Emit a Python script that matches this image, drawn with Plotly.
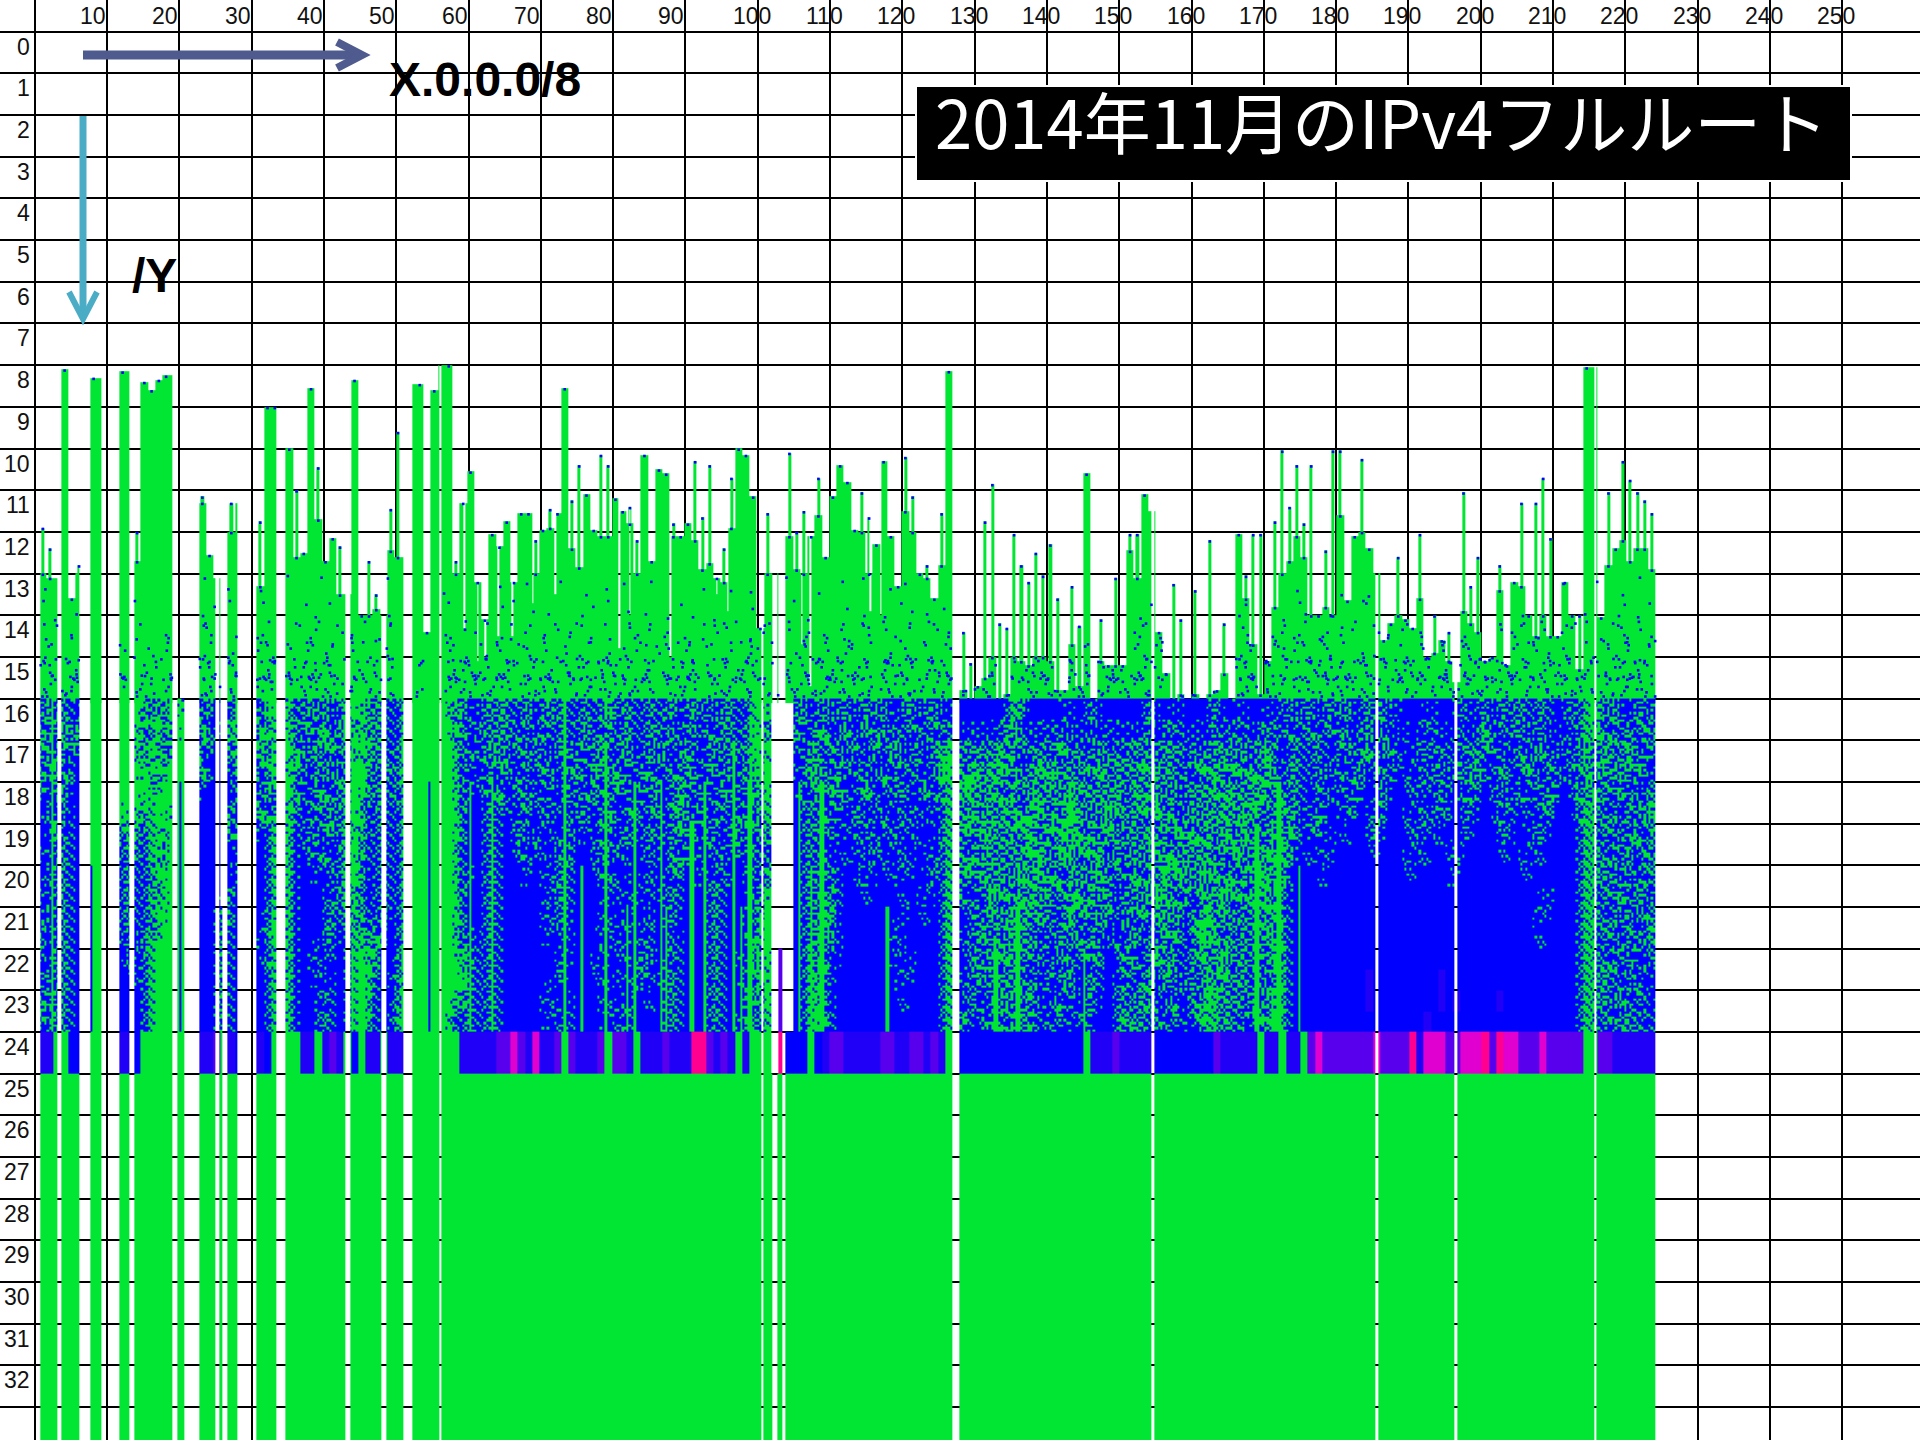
import plotly.graph_objects as go

# ---------- axes labels ----------
x_ticks = list(range(0, 251, 10))
x_labels = [v for v in x_ticks if v > 0]
y_rows = list(range(0, 34))
y_labels = list(range(0, 33))

# ---------- columns that exist in the routing table: (first, last) in /8 units ----------
block_start = [1.15, 4.1, 8.1, 12.1, 14.1, 20.05, 23.05, 25.9, 27, 31, 35, 43.9, 48.85, 52.5, 56.5,
               100.85, 102.85, 103.9, 128, 154.8, 185.7, 196.6, 215.85]
block_end = [3.5, 6.5, 9.5, 13.4, 19.4, 21, 25.35, 26.3, 28.3, 33.7, 43.2, 48.2, 51.2, 56.2, 100.6,
             102.2, 103.5, 127, 154.5, 185.4, 196.3, 215.5, 224]

# ---------- top of the green body of each /8 (prefix length), None = absent ----------
body_top = [
    None, 13.0, 13.1, 13.1, 8.1, 13.6, 13.0, None, 8.3, 8.3,
    None, None, 8.15, 8.15, 12.7, 8.4, 8.6, 8.35, 8.25, 8.25,
    16, None, None, 11.3, 12.55, 13.1, None, 12.0, 11.3, None,
    None, 13.3, 9.0, 9.0, None, 10.0, 12.6, 12.5, 8.55, 11.7,
    12.7, 12.15, 13.5, 13.5, 8.35, 14.0, 14.0, 13.85, 14.0, 12.45,
    12.6, 12.6, 8.45, 8.45, 14.4, 8.6, 8.0, 8.0, 13.0, 11.3,
    10.55, 13.2, 14.1, 12.05, 12.35, 11.75, 13.2, 11.55, 11.55, 13.0,
    11.95, 11.9, 11.55, 8.55, 12.4, 12.85, 11.1, 11.95, 12.1, 12.1,
    11.2, 11.5, 11.8, 13.0, 10.15, 12.7, 10.5, 10.6, 12.1, 12.1,
    11.8, 12.2, 12.9, 12.75, 13.1, 13.2, 11.9, 10.0, 10.15, 11.15,
    14.3, 13.0, 13.0, None, 12.1, 12.9, 13.0, 12.1, 11.6, 12.6,
    11.15, 10.4, 10.8, 11.95, 12.0, 13.0, 12.3, 10.3, 12.1, 13.3,
    11.5, 12.0, 13.0, 13.1, 13.6, 12.8, 8.14, None, 15.8, 16,
    15.7, 15.5, 15.0, 16, 15.9, 15, 15.1, 15.2, 15, 15,
    15.1, 15.8, 15.8, 14.7, 15.7, 10.6, 16, 15.1, 15.2, 15.2,
    15.2, 12.45, 13.1, 11.1, 11.5, 14.4, 15.4, 16, 15.9, 16,
    15.9, 16, 15.9, 15.8, 15.4, 16, 12.05, 13.6, 14.7, 15.9,
    15.1, 13.8, 13.0, 12.7, 12.1, 12.6, 14, 14, 13.8, 14,
    11.6, 13.65, 12.1, 12, 12.4, 13, 14.6, 14.2, 14, 14.1,
    14.3, 13.6, 15, 14.9, 14.6, 15.1, 15.6, 13.9, 14.2, 14.4,
    15.1, 15, 13.4, 15.2, 13.2, 13.3, 14, 14.5, 14, 14.5,
    14.5, 13.2, 14, 15.3, 8.05, 8.05, 14.05, 12.8, 12.4, 12.2,
    12.7, 12.4, 12.4, 12.9, None,
]

# ---------- thin spikes that rise above the body of a /8 ----------
spike_cols = [1, 2, 6, 14, 23, 27, 31, 36, 39, 42, 46, 47, 49, 50, 58, 69, 71, 74, 75, 78, 79, 82, 83, 88, 91, 92,
              93, 95, 96, 101, 104, 105, 106, 108, 114, 115, 120, 121, 123, 125, 128, 129, 131, 132, 133, 134,
              135, 136, 137, 138, 139, 140, 141, 143, 144, 147, 149, 151, 152, 157, 158, 160, 162, 164, 167,
              168, 169, 171, 172, 173, 174, 175, 176, 178, 179, 180, 183, 188, 191, 193, 195, 197, 198, 199,
              202, 205, 207, 208, 209, 213, 217, 219, 220, 221, 222, 223]
spike_tops = [11.9, 12.4, 12.8, 12.0, 11.15, 11.3, 11.75, 11.0, 10.45, 12.35, 12.7, 13.5, 11.45, 9.6, 12.7, 12.2,
              11.45, 11.25, 10.4, 10.15, 10.4, 11.4, 12.2, 11.8, 10.3, 11.65, 10.4, 12.4, 10.7, 11.55, 10.1, 12.0,
              11.5, 10.7, 11.05, 11.65, 10.2, 11.15, 12.8, 11.55, 14.4, 15.15, 11.75, 10.85, 14.2, 14.3, 12.05,
              12.8, 13.2, 12.5, 13.05, 12.3, 13.6, 13.3, 14.25, 14.1, 13.1, 12.05, 12.05, 13.25, 14.1, 13.4,
              12.2, 14.2, 13.05, 12.05, 12.05, 11.75, 10.05, 11.4, 10.4, 11.8, 10.4, 12.45, 10.05, 10.05, 10.25,
              12.6, 12.05, 14, 14.4, 11.05, 13.3, 12.6, 12.8, 11.3, 11.3, 10.7, 12.15, 14, 11.05, 10.3, 10.75,
              11.05, 11.25, 11.55]

# ---------- white slits cutting down through the bodies ----------
slit_x = [59.6, 61.5, 62.5, 64.3, 66.3, 69.1, 72.2, 81.0, 82.5, 88.1, 94.5, 96.0, 106.2, 107.4, 115.7, 117.1]
slit_bottom = [14.3, 15.1, 15.0, 14.5, 14.5, 13.7, 13.5, 14.8, 14.0, 15.0, 13.5, 13.9, 14.7, 15.7, 13.9, 14.0]

# ---------- thin vertical streaks in the map: position, first row, colour ----------
streak_x = [2.9, 8.2, 20.4, 36.4, 44.3, 45.5, 54.9, 60.6, 63.4, 73.4, 75.9, 79.1, 82.2, 83.1, 86.9, 87.6, 91.0, 92.8,
            96.9, 97.9, 99.0, 105.7, 107.4, 109.0, 118.0, 133.0, 136.0, 145.3, 169.0, 172.0, 174.8]
streak_from = [16, 20, 18, 19, 22, 22, 18, 18, 18, 16, 20, 17, 21, 18, 18, 21, 19, 18,
               17, 21, 18, 18, 20, 18, 21, 22, 21, 22, 19, 18, 20]
streak_col = ["g", "b", "b", "b", "g", "g", "b", "g", "g", "g", "g", "g", "g", "g", "g", "g", "g", "g",
              "g", "g", "g", "g", "g", "g", "g", "g", "g", "g", "g", "g", "g"]

# ---------- blue specks inside the green bodies, one line per prefix height ----------
speck_rows = [13.3, 13.9, 14.4, 14.9, 15.3, 15.7]
speck_lines = [
    ".o...o.... .......... ...o...o.. .o...o...o ..o...o..o ......o... .o..o...o. ..o...o..o .o...o..o. ..o...o..o o...o...o. .o..o...o. o...o...o. .o...o.... ...o.....o .......o.. .......o.. .o..o..o.. o...o..... ..o.....o. ..o..o.... .o...o...o .o..o",
    ".o.o..o... ....o..... ...o.o.o.. .o..o..o.o .o...o.o.o .......o.o ..o.o.o..o .o...o.o.o ..o.o..o.o .o..o.o..o o..o.o.o.. ..o.o..o.o .o.o.o.o.. ..o.o.o..o .o.o...o.. ..o.o...o. ......oo.. .oo.oo.o.o ...oo..o.. o.o..o.o.. .o.o.o.o.o ..o.o.o.oo .o.oo",
    ".o.o.o.o.. ....o...o. ...oo.o.o. .oo.o.o.oo ..o.oo.o.o .......o.o .oo.o.o.o. o.o.oo.o.o ..oo.o.oo. o.o.oo.o.o oo..o.oo.o .oo.oo.o.o .o.oo.o.oo .o.oo.o.o. .o.oo.o.o. o.oo.o.oo. .o.o.o.o.o .oo.oo.oo. o.o..o.o.o .oo.o.oo.o o.o.oo.oo. .oo.o.o.oo oo.oo",
    ".oo.o.oo.. ..o.o.o.o. ...oo.ooo. .ooo.o.oo. oo.oo.o.oo .......ooo .oo.oo.oo. o.oo.oo.oo .o.oo.oo.o oo.o.oo.oo o.oo.oo.oo .ooo.o.oo. oo.oo.o.oo .oo.oo.ooo oo.o.oo.oo o.oo.oo.oo .o.oo.ooo. .oo.ooo.oo o.oo.oo.oo .oo.oo.ooo oo.oo.oo.o .ooo.o.ooo oo.oo",
    ".ooo.oo... ..oo.o.o.o ...ooo.oo. .ooo.ooooo oo.ooo.ooo ...o...ooo ooo.ooo.oo oo.oooo.oo ooo.oo.ooo oo.ooo.ooo o.ooo.oooo oo.ooo.ooo oo.oooo.oo ooo.oo.ooo oo.ooo.ooo o.ooo.oooo oo.oo.oooo o.ooo.oooo oo.oooo.oo ooo.oo.ooo o.ooooo.oo oo.ooo.ooo ooo.o",
    ".oo.ooo... ..o.ooo.oo ...oooooo. .ooooo.ooo ooooo.oooo ...o...ooo oooooo.ooo ooo.oooooo oooooo.ooo oo.ooooooo ooo.oooooo oooooo.ooo ooo.oooooo ooooo.oooo oo.ooooooo oooooo.ooo oooo.ooooo ooo.oooooo oooooo.ooo oo.ooooooo ooooo.oooo oooo.ooooo oooo.",
]
# hand-set sub-cell placement of the specks and of the map's 3x8 sub-cells
speck_dx = [0.2, 0.7, 0.45, 0.85, 0.1, 0.6, 0.3, 0.95, 0.5, 0.15, 0.75]
speck_dy = [-0.2, 0.15, -0.05, 0.22, -0.15, 0.08, -0.24, 0.18, 0.02, -0.1, 0.25, -0.18, 0.12]
tile_dx = [[0, 1, -1], [1, 0, 0], [-1, 0, 1], [0, -1, 0], [1, 0, -1], [0, 0, 1], [-1, 1, 0], [0, -1, 1]]
tile_dy = [[0, -1, 1], [0, 1, 0], [1, 0, -1], [-1, 0, 0], [0, 1, 1], [0, -1, 0], [1, 0, -1], [-1, 0, 1]]

# ---------- map of rows 16..23 (two lines per row) and row 24: g green, b blue, v/p/m/r violet to hot pink, . none ----------
map_lines = [
    ".bgbgbb.gg ..ggggbgbg g..bgb.bg. .bgg.gbbgb gbbggggbgb bgggggggbg bbbgbgbbgb bgbgbbgbbg gbgbbgbbgb bgbgbbgbbg gg...bgbbg bbgbbgbgbb bgbbgbb.bb bbbbbggbbb bbbbbbgbbb bbbbgbbbbb bbbgbbbbbb bbbgbbgbbg bgbbgbgbbb bbbbbbbgbb gbbgbgbbgb bbgbgggbgb bbgbg",
    ".gbbgbg.gg ..gggbgggb g..gbb.gg. .gbg.gbgbg bgbggbgbgb bggggggggb bgbgbgbgbb gbbgbbgbgb bbgbbgbgbb gbbbgbgbbg gb...gbbgb gbbgbbgbbg bbgbbgb.bb bbbbbgbbbb bbgbbbbbbb bbbbbbbgbb bbbbbbgbbb gbbbgbbgbb gbbbgbbgbb bbgbbbbbbb bgbbbgbbgb bbbbggbgbb gbbgb",
    ".bggbgb.gg ..gggbggbg g..bgb.bg. .gbg.ggbbg gbgbgggbgb bggggggggb gbbgbgbbgb gbbgbgbbgb gbgbbgbbgb bgbbgbgbgg gg...bbggb bgbbgbbgbg bbgbbgg.gb gbgggbgbgg bgbgbgbggb gbggbgbgbg bgbggbgbgb ggbbgbbgbb bgbgbgbbgb bbgbgbbgbg gbbgbbgbbg bbgbggbgbg gbgbg",
    ".gbbgbb.gg ..gggggbgg g..gbb.bg. .bgg.gbgbb gbbggggbgb gggggggggb bbgbgbbgbb bgbbgbbggb bgbbgbgbbg gbbgbbgbbg gg...bgbgb gbgbbgbbgb gbbgbgg.bg gbggbgbbgb ggbgbbgbgb gbgbggbgbb gbggbgbgbg gbbbgbbgbb gbbgbbgbbb gbbbgbbgbg bbgbbgbgbb gbbgbbggbg bgbbb",
    ".bgbgbb.gg ..gggggggg g..bbb.bb. .bgb.ggbbg bgbgggbbgb bggggggggb bbbgbgbbgb gbbbgbgbbg gbbgbbgbbg bbgbbgbbgb gg...bbgbg bgbbgbgbbb gbbbgbg.gg gbgbgbgbgg bgbggbgbgb gbggbgbgbb gbgbggbgbg bggbgbbbgb bbgbbbgbbb bbgbbgbbgb bbgbbbgbbg bbbgggbbgb gbbgb",
    ".bbgbbb.gg ..gggbgggg g..bbb.gb. .gbg.gbbgb bgbggggbgb bggggggggg bbbgbbbgbb bbgbbbgbbg bbgbbgbbgg bgbbgbbgbb bg...bbgbb gbbbgbbbgb bbgbbbg.bg bggbggbggb gbgggbgbgg bbgbgbgbgb gbgbggbggg bgbbgbbgbb bgbbbgbbbb gbbbgbbbgb bbbgbbbbgb bbbbggbgbb bgbgb",
    ".bbbgbb.gg ..bggbggbg g..bbb.bg. .bbg.gbbgb gbbggbbbgb bggggggggb bbbgbbbgbb gbbbgbbbgb bbgbbgbbgb gbbbgbbgbg bg...bbgbg bbgbbbgbbb gbbbbbg.gb gbgbgbggbg bgggbgbgbg gbgbggbgbg bggbgbggbb bgggbbgbbb bbbbbgbbbb bbgbbbbbbb bbbgbbbbgb bbbbggbbgb gbgbb",
    ".bgbgbb.gg ..bgbbgggg g..bbb.bb. .bbg.gbbbg bgbgggbbgb bggggggggb bbbgbbbbgb bbbgbbbbgb gbbbbgbbbg bbgbbbgbbg bb...bbgbb bbbbgbbbgb bbbbgbg.bg bggbgbgbgg bgbggbggbb gbgbgbgbgg bgbgbgbgbg gbggbbbbgb bbbbbbbbbb gbbbbbgbbb bbbbbbgbbb bbbbggbgbb gbbgb",
    ".bbbgbb.gg ..bgbbgbgg g..bbb.bb. .bbg.gbbbb bbbgggbbgb bggggggggb bbbgbbbbbb bgbgbbbbbg bbbbbbbbgb bbbbgbbbbg bg...bbgbg bbbbbgbbbb gbbbbbg.gb gbgbgbgggb gbgbgbgbgb bgbgbgggbg bggbgbgbgg gbgbbbbbbb bbbbbbbbbb bbbbbbbbbb bbbbbbbbbb bbbbggbgbg bbgbb",
    ".bgbgbb.gg ..bgbbgggg g..bbb.gb. .bbg.gbbbb bgbggbbbgb bggggggggg bbbgbbbbbb bbbgbbbbbb bbgbbgbbgb bbbbgbbbbb bg...bbgbg gbbbbbbbbb bbbgbbg.bg bbggbgbgbg gbbgbgbggb bgbgbggbgb gbgbggbgbg ggbbbbbbbb bbbbbbbbbb bbbbbbbbbb bbbbbbbbbb bbbbggbbgb gbgbg",
    ".bbbgbb.gg ..bgbbgbgg g..bbbgbb. .bbg.gbbbb bgbbggbbgb bggggggggb bbbgbbbbbb bgbgbbbbbg bbbbbbbbgb bbbbgbbbbg gg...bbgbg gbbbbbbbbb bbbbbbg.bb bgbgbgbggb gbgggbgbbg bbgbgbgbgb bgggbgbgbg bggbbbbbbb bbbbbbbbbb bbbbbbbbbb bbbbbbbbgb bbbbggbgbb gbbgb",
    ".gbbgbb.gg ..bgbbgggg g..bbbgbb. .bgg.gbbbb bgbbggbgbb bggggggggb bbbgbbbbbb bbbbbbbbbb bgbbgbbbbb bbbbgbbbbb gg...bbgbg bbbbbbbbbg bbbbbbg.bg gbgbggbgbb bbgbbgbgbb gbgbbgbgbb gggbgbbgbg bggbbbbbbb bbbbbbbbbb bbbbbbbbbb bbbbbbbbbb bbbbggbbgb bgbgb",
    ".bbbgbb.gg ..bbgbgggg g..bbbgbb. .bbg.gbbbg bbbbggggbb bggggggggg gbbgbbbbbb bbbgbbbbgb bbbbgbbbgb bbbbgbbbgb gg.p.bbggb gbbbbbbbbb bbbbbbg.bb bgbgbgbbgb gbbgbbgbbb bgbbgbggbb gbgbggbgbg gbgbbbbbbb bbbbbbbbbb bbbbbbbbbb bbbbbbbbbb bbbbggbgbb gbbbg",
    ".bgbgbb.gg ..bbbbgggg g..bbbgbb. .bbg.gbbbb bbbbgggbbb gggggggggg gbbgbbbbbb bbbbbbbbbb bbgbbgbbgb bbbbgbbbbg bg.p.bbggb bbbbbbbbbb gbbbbbg.bg gbbgbgbgbb bgbgbbgbbb gbbggbbgbb gbggbgbgbb bggbbbbbbb bbbbvbbbbb bbbbvbbbbb bbbbbbbbbb bbbbggbgbg bbgbb",
    ".gbbgbb.gg ..bbbbgggg g..bbbgbb. .bbg.gbbbb gbbbgggbbb bggggggggb gbbgbbbbbb bgbbbbbbbg bbbbbbbbgb bbbbgbbbbg gg.p.bbggb bbbbbbbbbb bbbbbbg.bb bgbgbgbbgb bbgbbbgbbb gbbgbgbbgb bgggbgbgbg bggbbbbbbb bbbbvbbbbb bbbbvbvbbb bbvbbbbbbb bbbbggbgbb gbbbg",
    ".bgbgbb.gg ..bbbbgggg g..bbbgbb. .bbg.gbbbb gbbbgggbbb ggggggggbb gbbgbbbbbb bbbgbbbbbb bgbbbbbbgb bbbbgbbbgb bg.p.bbggg bbbbbbbbbb bbbbbbg.gb bbgbgbggbb gbbbgbbbbb ggbgbbgbbb gbggbgbbgb gggbbbbbbb bbbbbbbbbb bbvbbbbbbb bbbbbbbbbb bbbbggbbgb gbgbb",
]
row24_line = ".vvggbb.gg ..vvbggggg g..vvpgvb. .vbg.ggvvg vpvgbgvvgv vvgggggggv vvvvppmpvm vvpgpvvvpg ppvgvvvpvv vrrpvpvgvg gg.rbbbgbv ppvvvvvppv vppvpvg.bb bbbbbbbbbb bbbbbgvvvp vvvvvbbbbb bbbpvvvvvg vvgvvgpmpp pppppmpppp rvmmmppmmm rprmmpppmp ppppggppvv vvvvv"

title_text = "2014年11月のIPv4フルルート"
GREEN = "#00E633"
palette = {"g": 0, "b": 1, "v": 2, "p": 3, "m": 4, "r": 5}
scale = [[0, GREEN], [0.2, "#0000FF"], [0.4, "#2000F6"], [0.6, "#5800EE"], [0.8, "#E000D0"], [1, "#FF0090"]]


def inside(m):
    return any(s < m < e for s, e in zip(block_start, block_end))


def block_edges(extra):
    out = set()
    for s, e in zip(block_start, block_end):
        out.update([s, e])
        out.update(v for v in extra if s < v < e)
    return sorted(out)


# ---- upper part: green bodies, spikes and slits, rows 8..16 ----
spike_of = dict(zip(spike_cols, spike_tops))
up_extra = (list(range(225)) + [c + 0.29 for c in spike_cols] + [c + 0.71 for c in spike_cols]
            + [s - 0.12 for s in slit_x] + [s + 0.12 for s in slit_x])
up_x = block_edges(up_extra)
up_y = sorted({t for t in body_top if t is not None and t < 16} | set(spike_tops) | set(slit_bottom) | {16.1})
up_z = []
for y0, y1 in zip(up_y[:-1], up_y[1:]):
    row = []
    for l, r in zip(up_x[:-1], up_x[1:]):
        m = (l + r) / 2
        c = int(l)
        t = body_top[c] if c < len(body_top) else None
        if c in spike_of and c + 0.29 <= l < c + 0.71:
            t = spike_of[c]
        cut = any(abs(m - s) < 0.12 and y0 < b for s, b in zip(slit_x, slit_bottom))
        row.append(0 if inside(m) and t is not None and y0 >= t and not cut else None)
    up_z.append(row)

# ---- lower part: rows 16..24 and the solid block below ----
rows = [line.replace(" ", "") for line in map_lines]
row24 = row24_line.replace(" ", "")
fine_extra = [c + k / 3 for c in range(225) for k in range(3)]
lo_x = block_edges(fine_extra)
lo_y = [16 + i / 16 for i in range(128)] + [24, 25, 34]


def fine_value(c, k, i, j):
    own = rows[k][c]
    if own not in "gb":
        return palette.get(own)
    j2 = (j + c * 3) % 8
    other = rows[min(15, max(0, k + tile_dy[j2][i]))][min(223, max(0, c + tile_dx[j2][i]))]
    return palette[other] if other in "gb" else palette[own]


lo_z = []
for idx in range(128):
    k, j = idx // 8, idx % 8
    y = 16 + idx / 16
    row = []
    for l, r in zip(lo_x[:-1], lo_x[1:]):
        m = (l + r) / 2
        c = int(m)
        i = min(2, int((m - c) * 3))
        v = fine_value(c, k, i, j) if inside(m) else None
        for sx_, sf, sc in zip(streak_x, streak_from, streak_col):
            if abs(m - sx_) < 0.17 and y >= sf and inside(m):
                v = palette[sc]
        row.append(v)
    lo_z.append(row)
lo_z.append([palette.get(row24[int((l + r) / 2)]) if inside((l + r) / 2) else None for l, r in zip(lo_x[:-1], lo_x[1:])])
lo_z.append([0 if inside((l + r) / 2) else None for l, r in zip(lo_x[:-1], lo_x[1:])])

fig = go.Figure()
for xs, ys, zs in ((up_x, up_y, up_z), (lo_x, lo_y, lo_z)):
    fig.add_heatmap(x=xs, y=ys, z=zs, zmin=0, zmax=5, colorscale=scale, showscale=False,
                    hoverinfo="skip", xaxis="x2", yaxis="y")

# specks
sx, sy = [], []
for n, (r, line) in enumerate(zip(speck_rows, speck_lines)):
    s = line.replace(" ", "")
    for c, ch in enumerate(s[:224]):
        t = body_top[c]
        if ch != "o" or t is None:
            continue
        for rep in range(1 + n // 2):
            dx = speck_dx[(c * 3 + n * 2 + rep * 5) % len(speck_dx)]
            y = r + speck_dy[(c * 5 + n + rep * 4) % len(speck_dy)]
            if y > t and inside(c + dx) and not any(abs(c + dx - a) < 0.12 and y < b for a, b in zip(slit_x, slit_bottom)):
                sx.append(c + dx); sy.append(y)
for c, t in enumerate(body_top):
    if t is not None and t < 16 and inside(c + 0.5):
        sx.append(c + 0.5); sy.append(t + 0.03)
for c, t in zip(spike_cols, spike_tops):
    sx.append(c + 0.5); sy.append(t + 0.03)
fig.add_scatter(x=sx, y=sy, mode="markers", marker=dict(symbol="square", size=2.6, color="#0000FF", line=dict(width=0)),
                xaxis="x2", yaxis="y", hoverinfo="skip")

W, H = 1920, 1440


def px(x):
    return x / W


def py(y):
    return 1 - y / H


ARROW1, ARROW2 = "#4F5A8E", "#4BACC6"
shapes = [
    dict(type="rect", xref="paper", yref="paper", x0=px(916), x1=px(1851), y0=py(181), y1=py(86),
         fillcolor="black", line=dict(color="white", width=2), layer="above"),
    dict(type="line", xref="paper", yref="paper", x0=px(83), x1=px(360), y0=py(55), y1=py(55),
         line=dict(color=ARROW1, width=9), layer="above"),
    dict(type="path", xref="paper", yref="paper",
         path=f"M {px(337)} {py(42)} L {px(362)} {py(55)} L {px(337)} {py(68)}",
         line=dict(color=ARROW1, width=8), layer="above"),
    dict(type="line", xref="paper", yref="paper", x0=px(83), x1=px(83), y0=py(116), y1=py(316),
         line=dict(color=ARROW2, width=7), layer="above"),
    dict(type="path", xref="paper", yref="paper",
         path=f"M {px(69)} {py(292)} L {px(83)} {py(319)} L {px(97)} {py(292)}",
         line=dict(color=ARROW2, width=6), layer="above"),
]

LABEL_FONT = dict(family="Liberation Sans Narrow, Liberation Sans", size=23, color="#111111")
ann = []
for v in x_labels:
    ann.append(dict(x=v, y=-0.38, xref="x", yref="y", text=str(v), showarrow=False, font=LABEL_FONT,
                    xshift=-14 if v < 100 else -6, yanchor="middle", xanchor="center"))
for r in y_labels:
    ann.append(dict(x=-0.37, y=r + 0.36, xref="x", yref="y", text=str(r), showarrow=False, font=LABEL_FONT,
                    xanchor="right", yanchor="middle"))
ann.append(dict(x=px(387), y=py(79), xref="paper", yref="paper", text="<b>X.0.0.0/8</b>", showarrow=False,
                xanchor="left", yanchor="middle", font=dict(family="Liberation Sans", size=48, color="black")))
ann.append(dict(x=px(130), y=py(275), xref="paper", yref="paper", text="<b>/Y</b>", showarrow=False,
                xanchor="left", yanchor="middle", font=dict(family="Liberation Sans", size=48, color="black")))
ann.append(dict(x=px(1381), y=py(119), xref="paper", yref="paper", text=title_text, showarrow=False,
                xanchor="center", yanchor="middle", font=dict(family="Noto Sans CJK JP", size=67, color="white")))

fig.update_layout(
    template=None,
    width=W, height=H, margin=dict(l=0, r=0, t=0, b=0), paper_bgcolor="white", plot_bgcolor="white",
    showlegend=False, shapes=shapes, annotations=ann,
    xaxis=dict(range=[-34.7 / 7.23, (W - 34.7) / 7.23], tickvals=x_ticks, showticklabels=False, ticks="",
               showgrid=True, gridcolor="black", gridwidth=2, zeroline=False, showline=False, domain=[0, 1]),
    xaxis2=dict(range=[-32 / 7.248, (W - 32) / 7.248], overlaying="x", anchor="y", visible=False),
    yaxis=dict(range=[(H - 31.7) / 41.68, -31.7 / 41.68], tickvals=y_rows, showticklabels=False, ticks="",
               showgrid=True, gridcolor="black", gridwidth=2, zeroline=False, showline=False, domain=[0, 1]),
)
fig.write_html("out.html", config={"displayModeBar": False},
               post_script="document.body.style.margin='0';window.dispatchEvent(new Event('resize'));")
